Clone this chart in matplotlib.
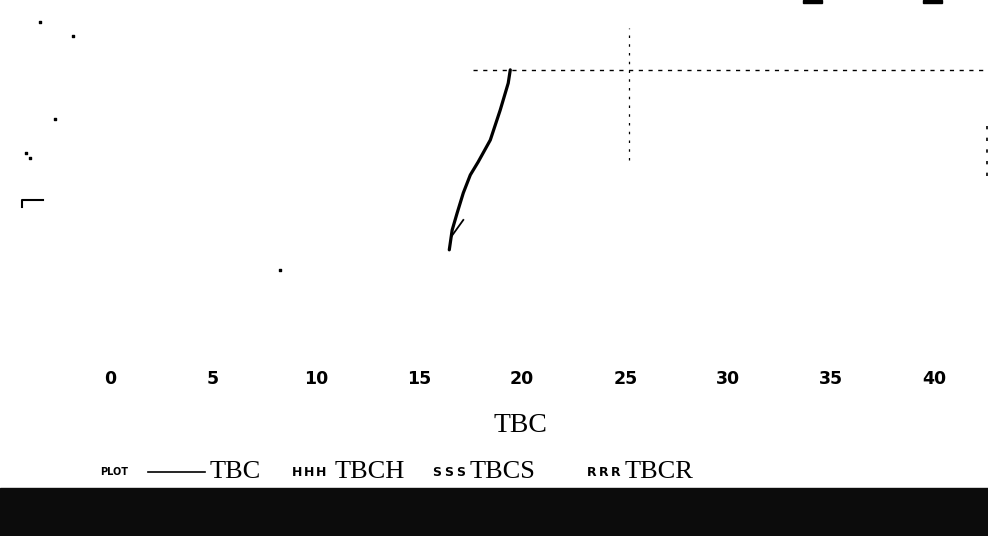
import matplotlib
matplotlib.use("Agg")
import matplotlib.pyplot as plt
from matplotlib.patches import Rectangle

# TBC curve
tbc_x = [16.46, 16.60, 16.84, 17.14, 17.48, 17.86, 18.45, 18.93, 19.32, 19.42]
tbc_y = [0.306, 0.361, 0.408, 0.464, 0.514, 0.550, 0.611, 0.694, 0.769, 0.806]
hook_x = [16.55, 17.14]
hook_y = [0.342, 0.389]

# reference lines
ref_level = 0.806
ref_level_start = 17.6
ref_x = 25.2
ref_x_span = [0.556, 0.922]
edge_x = 42.55
edge_span = [0.51, 0.66]

# stray specks left by the scan
speck_x = [-3.4, -1.8, -2.67, -4.1, 8.25, -3.9]
speck_y = [0.94, 0.90, 0.67, 0.575, 0.25, 0.56]

xticks = [0, 5, 10, 15, 20, 25, 30, 35, 40]
legend_items = [("line", "TBC"), ("HHH", "TBCH"), ("SSS", "TBCS"), ("RRR", "TBCR")]

fig = plt.figure(figsize=(9.88, 5.36), dpi=100)
ax = fig.add_axes([0, 176 / 536, 1, 360 / 536])
ax.set_xlim(-5.34, 42.6)
ax.set_ylim(0, 1)

ax.plot(tbc_x, tbc_y, color="black", linewidth=2.3, solid_capstyle="round")
ax.plot(hook_x, hook_y, color="black", linewidth=1.3)
ax.plot([ref_level_start, 42.6], [ref_level, ref_level], color="black",
        linewidth=1.0, linestyle=(0, (3, 4)))
ax.plot([ref_x, ref_x], ref_x_span, color="black", linewidth=0.9,
        linestyle=(0, (2, 5)))
ax.plot([edge_x, edge_x], edge_span, color="black", linewidth=1.2,
        linestyle=(0, (2, 5)))
ax.scatter(speck_x, speck_y, s=3, color="black", marker="s")
# bracket-like remnant at left edge
ax.plot([-4.25, -4.25, -3.25], [0.425, 0.445, 0.445], color="black", linewidth=1.5)

ax.set_xticks(xticks)
ax.set_xticklabels([str(t) for t in xticks], fontsize=12.5, fontweight="bold",
                   family="DejaVu Sans")
ax.tick_params(axis="x", length=0, pad=7)
ax.set_yticks([])
for s in ax.spines.values():
    s.set_visible(False)
ax.set_xlabel("TBC", family="Liberation Serif", fontsize=20)
ax.xaxis.set_label_coords(520 / 988, -(425 - 360) / 360)
ax.xaxis.label.set_va("center")

# legend row drawn as text
ly = 1 - 472 / 536
fig.text(100 / 988, ly, "PLOT", fontsize=7, fontweight="bold",
         va="center", ha="left")
fig.add_artist(plt.Line2D([148 / 988, 205 / 988], [ly, ly],
                          color="black", linewidth=1.2))
legend_pos = [(210, None), (297, 335), (437, 470), (592, 625)]
for (sym, lab), (px_sym, px_lab) in zip(legend_items, legend_pos):
    if sym == "line":
        fig.text(px_sym / 988, ly, lab, family="Liberation Serif",
                 fontsize=19, va="center", ha="left")
    else:
        for i, ch in enumerate(sym):
            fig.text((px_sym + i * 12) / 988, ly, ch, family="DejaVu Sans Condensed",
                     fontsize=9, fontweight="bold", va="center", ha="center")
        fig.text(px_lab / 988, ly, lab, family="Liberation Serif",
                 fontsize=19, va="center", ha="left")

# dark band at bottom of the scan and marks at the top edge
fig.add_artist(Rectangle((0, 0), 1, 48 / 536, transform=fig.transFigure,
                         color="#0c0c0c"))
for x0 in [803, 923]:
    fig.add_artist(Rectangle((x0 / 988, 1 - 3 / 536), 19 / 988, 3 / 536,
                             transform=fig.transFigure, color="black"))

fig.savefig("out.png", dpi=100, facecolor="white")
